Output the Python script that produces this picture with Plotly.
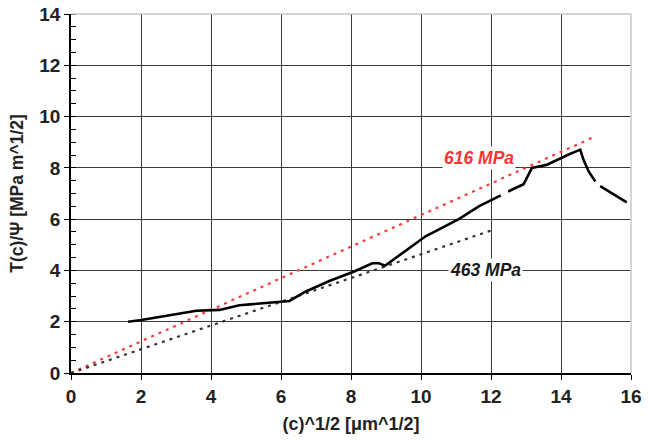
import plotly.graph_objects as go

# Measured curve T(c)/Psi vs sqrt(c); None marks gaps in the trace
curve_x = [1.63, 2.01, 3.58, 4.24, 4.81, 5.48, 6.24, 6.71, 7.38, 8.09, 8.61, 8.80, 8.97,
           10.13, 11.08, 11.65, 12.28, None, 12.49, 12.93, 13.17, 13.60, 14.22, 14.55,
           14.64, 14.79, 14.98, None, 15.12, 15.45, 15.88]
curve_y = [2.00, 2.07, 2.43, 2.46, 2.64, 2.72, 2.81, 3.18, 3.59, 3.96, 4.28, 4.28, 4.18,
           5.33, 6.00, 6.50, 6.93, None, 7.08, 7.36, 8.00, 8.12, 8.52, 8.71,
           8.32, 7.86, 7.47, None, 7.29, 7.02, 6.65]

# Reference strength lines (slope = strength/1000)
line616_x = [0, 15.0]
line616_y = [0, 0.616 * 15.0]
line463_x = [0, 12.1]
line463_y = [0, 0.463 * 12.1]

x_ticks = [0, 2, 4, 6, 8, 10, 12, 14, 16]
y_ticks = [0, 2, 4, 6, 8, 10, 12, 14]

font_family = "Liberation Sans, Arial, sans-serif"

fig = go.Figure()
fig.add_trace(go.Scatter(x=line616_x, y=line616_y, mode="lines",
                         line=dict(color="#ff3b3b", width=2.2, dash="3px,5px")))
fig.add_trace(go.Scatter(x=line463_x, y=line463_y, mode="lines",
                         line=dict(color="#333333", width=2.2, dash="3px,5px")))
fig.add_trace(go.Scatter(x=curve_x, y=curve_y, mode="lines", connectgaps=False,
                         line=dict(color="black", width=2.6)))

fig.add_annotation(x=11.65, y=8.4, text="<b><i>616 MPa</i></b>", showarrow=False,
                   font=dict(family=font_family, size=17.5, color="#ff3333"),
                   bgcolor="white")
fig.add_annotation(x=11.85, y=4.02, text="<b><i>463 MPa</i></b>", showarrow=False,
                   font=dict(family=font_family, size=17.5, color="#1a1a1a"),
                   bgcolor="white")

# light outer frame (top and right)
fig.add_shape(type="line", xref="paper", yref="paper", x0=0, x1=1, y0=1, y1=1,
              line=dict(color="#c8c8c8", width=1.5), layer="above")
fig.add_shape(type="line", xref="paper", yref="paper", x0=1, x1=1, y0=0, y1=1,
              line=dict(color="#c8c8c8", width=1.5), layer="above")

fig.update_layout(
    width=649, height=441,
    margin=dict(l=71, r=18, t=14, b=68),
    plot_bgcolor="white", paper_bgcolor="white",
    showlegend=False,
    font=dict(family=font_family, size=14, color="black"),
)
tickfont = dict(family=font_family, size=19, color="#222", weight="bold")
fig.update_xaxes(range=[0, 16], tickvals=x_ticks, showgrid=True, gridcolor="#3a3a3a",
                 gridwidth=1, zeroline=False, showline=True, linecolor="black", linewidth=1.5,
                 ticks="outside", ticklen=5, tickcolor="black", automargin=False,
                 tickfont=tickfont,
                 title=dict(text="(c)^1/2 [μm^1/2]",
                            font=dict(family=font_family, size=18, color="#222", weight="bold"),
                            standoff=12))
fig.update_yaxes(range=[0, 14], tickvals=y_ticks, showgrid=True, gridcolor="#3a3a3a",
                 gridwidth=1, zeroline=False, showline=True, linecolor="black", linewidth=1.5,
                 ticks="outside", ticklen=5, tickcolor="black", automargin=False,
                 tickfont=tickfont,
                 minor=dict(dtick=0.5, ticks="inside", ticklen=5, tickcolor="black", showgrid=False),
                 title=dict(text="T(c)/Ψ [MPa m^1/2]",
                            font=dict(family=font_family, size=17.5, color="#222", weight="bold"),
                            standoff=11))

fig.write_html("out.html", config={"displayModeBar": False},
               post_script="document.body.style.margin='0';document.body.style.overflow='hidden';")
